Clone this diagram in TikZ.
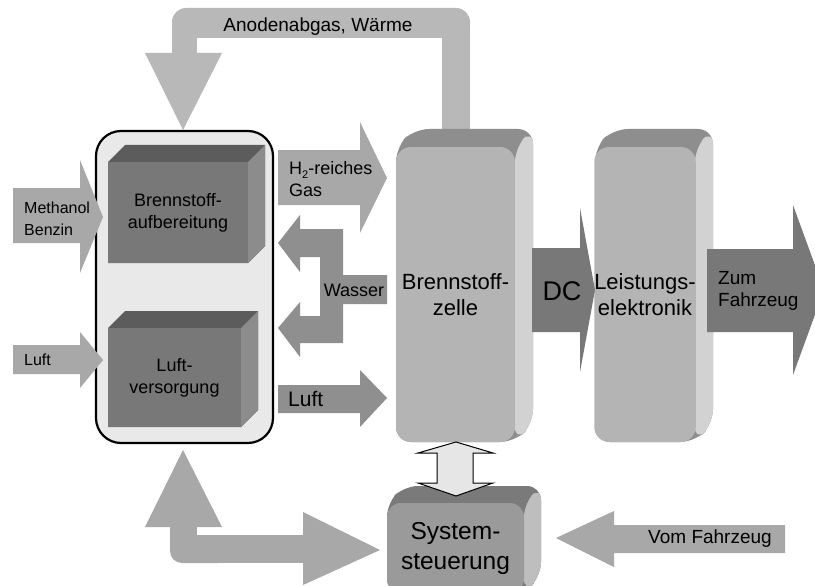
\documentclass[tikz,border=0pt]{standalone}
\usepackage{fontspec}
\setmainfont{Liberation Sans}

\definecolor{anode}{HTML}{B8B8B8}
\definecolor{lightflow}{HTML}{A8A8A8}
\definecolor{midflow}{HTML}{8F8F8F}
\definecolor{darkflow}{HTML}{787878}
\definecolor{grp}{HTML}{E9E9E9}
\definecolor{cubefront}{HTML}{787878}
\definecolor{cubetop}{HTML}{5C5C5C}
\definecolor{cubeside}{HTML}{8C8C8C}
\definecolor{stackfront}{HTML}{B4B4B4}
\definecolor{stacktop}{HTML}{8E8E8E}
\definecolor{stackside}{HTML}{D2D2D2}
\definecolor{ctrlfront}{HTML}{9A9A9A}
\definecolor{ctrltop}{HTML}{7A7A7A}
\definecolor{ctrlside}{HTML}{BEBEBE}
\definecolor{linkfill}{HTML}{E6E6E6}

% top and side faces of a block: x1,y1,x2,y2 (front face), depth, corner style, top colour, side colour
\newcommand{\solidfaces}[8]{%
  \fill[#7,#6] (#1,#4) -- (#1,#2) -- ({#1+#5},{#2-#5}) -- ({#3+#5},{#2-#5})
     -- ({#3+#5},{#4-#5}) -- (#3,#4) -- cycle;
  \fill[#8,#6] (#3,#2) -- ({#3+#5},{#2-#5}) -- ({#3+#5},{#4-#5}) -- (#3,#4) -- cycle;
}

\tikzset{
  lbl/.style={inner sep=0pt, text=black},
  cube/.style={fill=cubefront, inner sep=0pt, align=center,
    font=\fontsize{18}{22}\selectfont},
  stack/.style={fill=stackfront, rounded corners=15, inner sep=0pt, align=center,
    font=\fontsize{22}{26}\selectfont},
}

\begin{document}
\begin{tikzpicture}[x=1pt,y=-1pt]
\path[use as bounding box] (0,0) rectangle (815,586);
\clip (0,0) rectangle (815,586);
\fill[white] (0,0) rectangle (815,586);

% anode exhaust and heat returned to the fuel processor
\fill[anode, rounded corners=14] (172,8) rectangle (470,38);
\fill[anode] (172,20) rectangle (197,60);
\fill[anode] (442,20) rectangle (470,130);
\fill[anode] (145,53) -- (222,53) -- (183,130) -- cycle;
\node[lbl, font=\fontsize{19}{22}\selectfont] (anodelbl) at (318,27) {Anodenabgas, Wärme};

% gas supply group
\node[draw=black, line width=2.2, fill=grp, rounded corners=25, minimum width=177pt,
      minimum height=312pt, inner sep=0pt] (supply) at (184.5,287) {};

\solidfaces{108}{162}{248}{263}{17}{sharp corners}{cubetop}{cubeside}
\node[cube, minimum width=140pt, minimum height=101pt] (reformer) at (178,212.5)
  {Brennstoff-\\aufbereitung};

\solidfaces{108}{328}{241}{427}{17}{sharp corners}{cubetop}{cubeside}
\node[cube, minimum width=133pt, minimum height=99pt] (airsupply) at (174.5,377.5)
  {Luft-\\versorgung};

% feeds into the group
\fill[lightflow] (13,188) -- (80,188) -- (80,160) -- (103,217) -- (80,273) -- (80,243)
  -- (13,243) -- cycle;
\node[lbl, anchor=west, align=left, font=\fontsize{16}{22}\selectfont] (fuellbl) at (24,219)
  {Methanol\\Benzin};

\fill[lightflow] (13,345) -- (80,345) -- (80,332) -- (103,360) -- (80,388) -- (80,374)
  -- (13,374) -- cycle;
\node[lbl, anchor=west, font=\fontsize{16}{20}\selectfont] (airinlbl) at (24,360) {Luft};

% fuel cell stack and power electronics
\solidfaces{396}{147}{515}{442}{18}{rounded corners=15}{stacktop}{stackside}
\node[stack, minimum width=119pt, minimum height=295pt] (stack) at (455.5,294.5)
  {Brennstoff-\\zelle};

\solidfaces{595}{147}{695}{442}{18}{rounded corners=15}{stacktop}{stackside}
\node[stack, minimum width=100pt, minimum height=295pt] (power) at (645,294.5)
  {Leistungs-\\elektronik};

% hydrogen-rich gas
\fill[lightflow] (278,150) -- (360,150) -- (360,122) -- (387,178) -- (360,233) -- (360,205)
  -- (278,205) -- cycle;
\node[lbl, anchor=west, align=left, font=\fontsize{18}{22}\selectfont] (h2lbl) at (289,179)
  {H\raisebox{-0.45ex}{\fontsize{11}{11}\selectfont 2}-reiches\\Gas};

% water returned to both units
\fill[midflow] (278,243) -- (300,215) -- (300,229) -- (343,229) -- (343,275) -- (387,275)
  -- (387,304) -- (343,304) -- (343,343) -- (300,343) -- (300,357) -- (278,328)
  -- (300,302) -- (300,316) -- (320,316) -- (320,257) -- (300,257) -- (300,272) -- cycle;
\node[lbl, font=\fontsize{18}{22}\selectfont] (waterlbl) at (354,290) {Wasser};

% air to the stack
\fill[midflow] (278,385) -- (360,385) -- (360,370) -- (387,398) -- (360,427) -- (360,413)
  -- (278,413) -- cycle;
\node[lbl, anchor=west, font=\fontsize{21}{24}\selectfont] (airoutlbl) at (288,399) {Luft};

% electrical output
\fill[darkflow] (532,248) -- (580,248) -- (580,208) -- (595,290) -- (580,372) -- (580,332)
  -- (532,332) -- cycle;
\node[lbl, font=\fontsize{27}{30}\selectfont] (dclbl) at (562,291) {DC};

\fill[darkflow] (707,249) -- (793,249) -- (793,205) -- (824,290) -- (793,375) -- (793,332)
  -- (707,332) -- cycle;
\node[lbl, anchor=west, align=left, font=\fontsize{19}{22}\selectfont] (outlbl) at (718,291)
  {Zum\\Fahrzeug};

% system control
\solidfaces{387}{503}{524}{593}{17}{rounded corners=14}{ctrltop}{ctrlside}
\node[fill=ctrlfront, rounded corners=14, inner sep=0pt, align=center,
      font=\fontsize{24.5}{30}\selectfont, minimum width=137pt, minimum height=90pt]
  (control) at (455.5,548) {System-\\steuerung};

% data link between stack and control
\filldraw[fill=linkfill, draw=black, line width=1, line join=miter]
  (456,442) -- (493,453) -- (473,453) -- (473,483) -- (493,483) -- (456,496)
  -- (418,483) -- (437,483) -- (437,453) -- (418,453) -- cycle;

% vehicle demand
\fill[lightflow] (785,525) -- (614,525) -- (614,511) -- (556,538) -- (614,567) -- (614,553)
  -- (785,553) -- cycle;
\node[lbl, font=\fontsize{19}{22}\selectfont] (vehlbl) at (710,539) {Vom Fahrzeug};

% control link between group and system control
\fill[lightflow] (145,527) -- (183,450) -- (222,527) -- cycle;
\fill[lightflow] (170,520) rectangle (197,550);
\fill[lightflow] (185,535) rectangle (310,563);
\fill[lightflow, rounded corners=12] (170,535) rectangle (230,563);
\fill[lightflow] (303,512) -- (380,550) -- (303,585) -- cycle;
\end{tikzpicture}
\end{document}
